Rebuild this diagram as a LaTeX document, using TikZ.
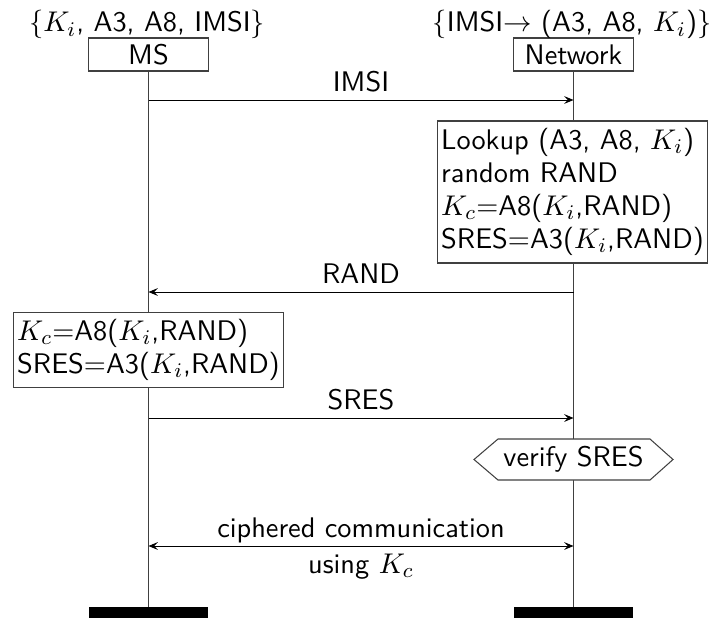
\documentclass[tikz,border=0pt]{standalone}
\usetikzlibrary{arrows.meta}
\begin{document}
\begin{tikzpicture}[x=0.3846pt,y=-0.3846pt,
  font=\sffamily\fontsize{10.9}{12.7}\selectfont,
  inst/.style={draw=black!75, fill=white, minimum width=45.8pt, minimum height=12.7pt, inner sep=0pt},
  life/.style={draw=black!75, line width=0.4pt},
  msg/.style={-{Stealth[length=3.6pt,width=3pt,inset=1.4pt]}, line width=0.35pt},
  dmsg/.style={{Stealth[length=3.6pt,width=3pt,inset=1.4pt]}-{Stealth[length=3.6pt,width=3pt,inset=1.4pt]}, line width=0.35pt},
  act/.style={draw=black!75, fill=white, align=left, inner sep=0pt},
  bar/.style={fill=black, draw=none, minimum width=45.8pt, minimum height=4pt, inner sep=0pt},
  lab/.style={anchor=base}]
\useasboundingbox (0,0) rectangle (709,617);

% instances
\node[inst] (ms) at (148.5,54.5) {MS};
\node[inst] (net) at (573.5,54.5) {Network};
\node[lab] (msv) at (147,32) {$\{K_i$, A3, A8, IMSI$\}$};
\node[lab] (netv) at (572,32) {$\{$IMSI$\rightarrow$ (A3, A8, $K_i$)$\}$};

% end bars
\node[bar] (msbar) at (148.5,612.5) {};
\node[bar] (netbar) at (573.5,612.5) {};

% lifelines
\draw[life] (ms.south) -- (msbar.north);
\draw[life] (net.south) -- (netbar.north);

% message rows
\coordinate (y1) at (0,100);
\coordinate (y2) at (0,292);
\coordinate (y3) at (0,418);
\coordinate (y4) at (0,546);

\draw[msg] (ms |- y1) -- (net |- y1) node[pos=0.5, lab, yshift=3.1pt] (limsi) {IMSI};

\node[act, minimum width=104.2pt, minimum height=54.6pt] (look) at (572.5,192)
  {Lookup (A3, A8, $K_i$)\\random RAND\\$K_c$=A8($K_i$,RAND)\\SRES=A3($K_i$,RAND)};

\draw[msg] (net |- y2) -- (ms |- y2) node[pos=0.5, lab, yshift=3.3pt] (lrand) {RAND};

\node[act, minimum width=104.2pt, minimum height=29.2pt] (calc) at (148.5,350)
  {$K_c$=A8($K_i$,RAND)\\SRES=A3($K_i$,RAND)};

\draw[msg] (ms |- y3) -- (net |- y3) node[pos=0.5, lab, yshift=3.3pt] (lsres) {SRES};

% verify SRES condition
\coordinate (vc) at (573.5,459.5);
\draw[draw=black!75, fill=white] (vc) ++(-99.5,0) -- ++(24,-20.5) -- ++(152,0) -- ++(23,20.5)
  -- ++(-23,20.5) -- ++(-152,0) -- cycle;
\node (vs) at (vc) {verify SRES};

\draw[dmsg] (ms |- y4) -- (net |- y4)
  node[pos=0.5, lab, yshift=3.1pt] (lciph) {ciphered communication}
  node[pos=0.5, lab, yshift=-10.4pt] (lusing) {using $K_c$};
\end{tikzpicture}
\end{document}
